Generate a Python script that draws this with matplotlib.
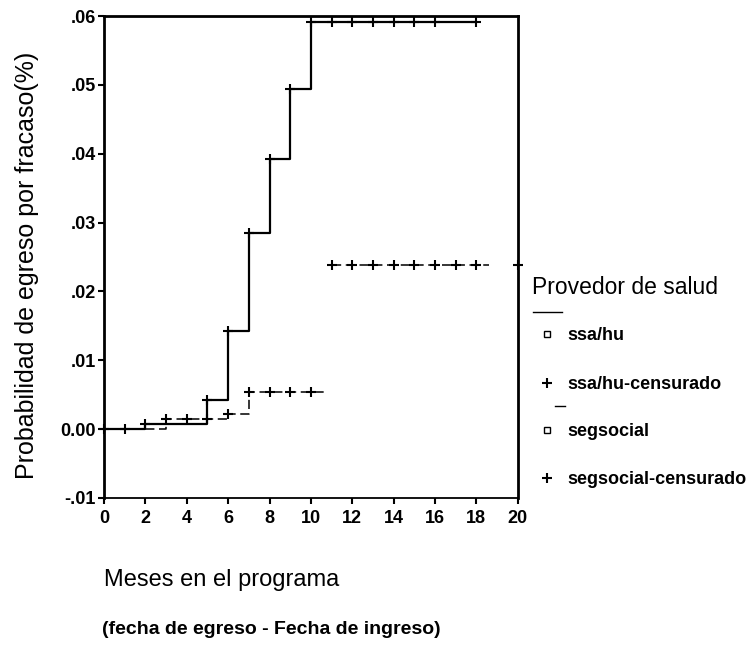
import numpy as np
import matplotlib
matplotlib.use("Agg")
import matplotlib.pyplot as plt
from matplotlib.lines import Line2D

plt.rcParams['font.family'] = ['Liberation Sans', 'DejaVu Sans']

# ssa/hu step curve (solid)
ssa_t = [0, 2, 5, 6, 7, 8, 9, 10, 18]
ssa_p = [0.0, 0.0008, 0.0043, 0.0142, 0.0285, 0.0393, 0.0494, 0.0591, 0.0591]
ssa_cens_t = [0, 1, 2, 5, 6, 7, 8, 9, 10, 11, 12, 13, 14, 15, 16, 18]

# segsocial step curve (dashed), two pieces
seg1_t = [0, 3, 6, 7, 10.8]
seg1_p = [0.0, 0.0015, 0.0022, 0.0054, 0.0054]
seg2_t = [11, 18.6]
seg2_p = [0.0238, 0.0238]
seg_cens_t = [3, 4, 5, 6, 7, 8, 9, 10, 11, 12, 13, 14, 15, 16, 17, 18, 20]

xticks = [0, 2, 4, 6, 8, 10, 12, 14, 16, 18, 20]
yticks = [-0.01, 0.0, 0.01, 0.02, 0.03, 0.04, 0.05, 0.06]
ytick_labels = ['-.01', '0.00', '.01', '.02', '.03', '.04', '.05', '.06']

def step_val(ts, ps, t):
    v = ps[0]
    for ti, pi in zip(ts, ps):
        if t >= ti:
            v = pi
    return v

fig = plt.figure(figsize=(7.54, 6.45), dpi=100)
ax = fig.add_axes([0.138, 0.228, 0.5486, 0.747])

ax.plot(ssa_t, ssa_p, drawstyle='steps-post', color='black', lw=1.6)
ax.plot(seg1_t, seg1_p, drawstyle='steps-post', color='black', lw=1.1,
        linestyle=(0, (6, 3)))
ax.plot(seg2_t, seg2_p, drawstyle='steps-post', color='black', lw=1.1,
        linestyle=(0, (6, 3)))

ssa_cv = [step_val(ssa_t, ssa_p, t) for t in ssa_cens_t]
ax.plot(ssa_cens_t, ssa_cv, linestyle='none', marker='+', ms=7, mew=1.5, color='black',
        clip_on=False)
seg_all_t = seg1_t[:-1] + seg2_t[:-1]
seg_all_p = seg1_p[:-1] + seg2_p[:-1]
seg_cv = [step_val(seg_all_t, seg_all_p, t) for t in seg_cens_t]
ax.plot(seg_cens_t, seg_cv, linestyle='none', marker='+', ms=7, mew=1.5, color='black',
        clip_on=False)

ax.set_xlim(0, 20)
ax.set_ylim(-0.01, 0.06)
ax.set_xticks(xticks)
ax.set_xticklabels([str(x) for x in xticks], fontsize=13, fontweight='bold')
ax.set_yticks(yticks)
ax.set_yticklabels(ytick_labels, fontsize=13, fontweight='bold')
ax.tick_params(direction='out', length=4, width=1.5, pad=2)
ax.tick_params(axis='x', pad=5)
for s in ['left', 'top', 'right']:
    ax.spines[s].set_linewidth(2.0)
ax.spines['bottom'].set_linewidth(1.3)

def fx(x): return x / 754
def fy(y): return 1 - y / 645

fig.text(fx(27), fy(265), 'Probabilidad de egreso por fracaso(%)', rotation=90,
         ha='center', va='center', fontsize=18)
fig.text(fx(104), fy(580), 'Meses en el programa', ha='left', va='center', fontsize=17)
fig.text(fx(102), fy(630), '(fecha de egreso - Fecha de ingreso)', ha='left',
         va='center', fontsize=14, fontweight='bold')

# legend
fig.text(fx(532), fy(288), 'Provedor de salud', ha='left', va='center', fontsize=16.5)
fig.add_artist(Line2D([fx(533), fx(562)], [fy(312), fy(312)], color='black', lw=1))
fig.add_artist(Line2D([fx(555), fx(565)], [fy(406), fy(406)], color='black', lw=1))
leg_items = [('ssa/hu', 's', 336), ('ssa/hu-censurado', '+', 385),
             ('segsocial', 's', 432), ('segsocial-censurado', '+', 480)]
for label, mk, yy in leg_items:
    if mk == 's':
        fig.add_artist(Line2D([fx(547)], [fy(yy - 2)], marker='s', ms=4.5, mfc='white',
                              mec='black', mew=1, linestyle='none'))
    else:
        fig.add_artist(Line2D([fx(547)], [fy(yy - 2)], marker='+', ms=7, mew=1.5,
                              color='black', linestyle='none'))
    fig.text(fx(567), fy(yy), label, ha='left', va='center', fontsize=13, fontweight='bold')

fig.savefig('out.png', dpi=100)
